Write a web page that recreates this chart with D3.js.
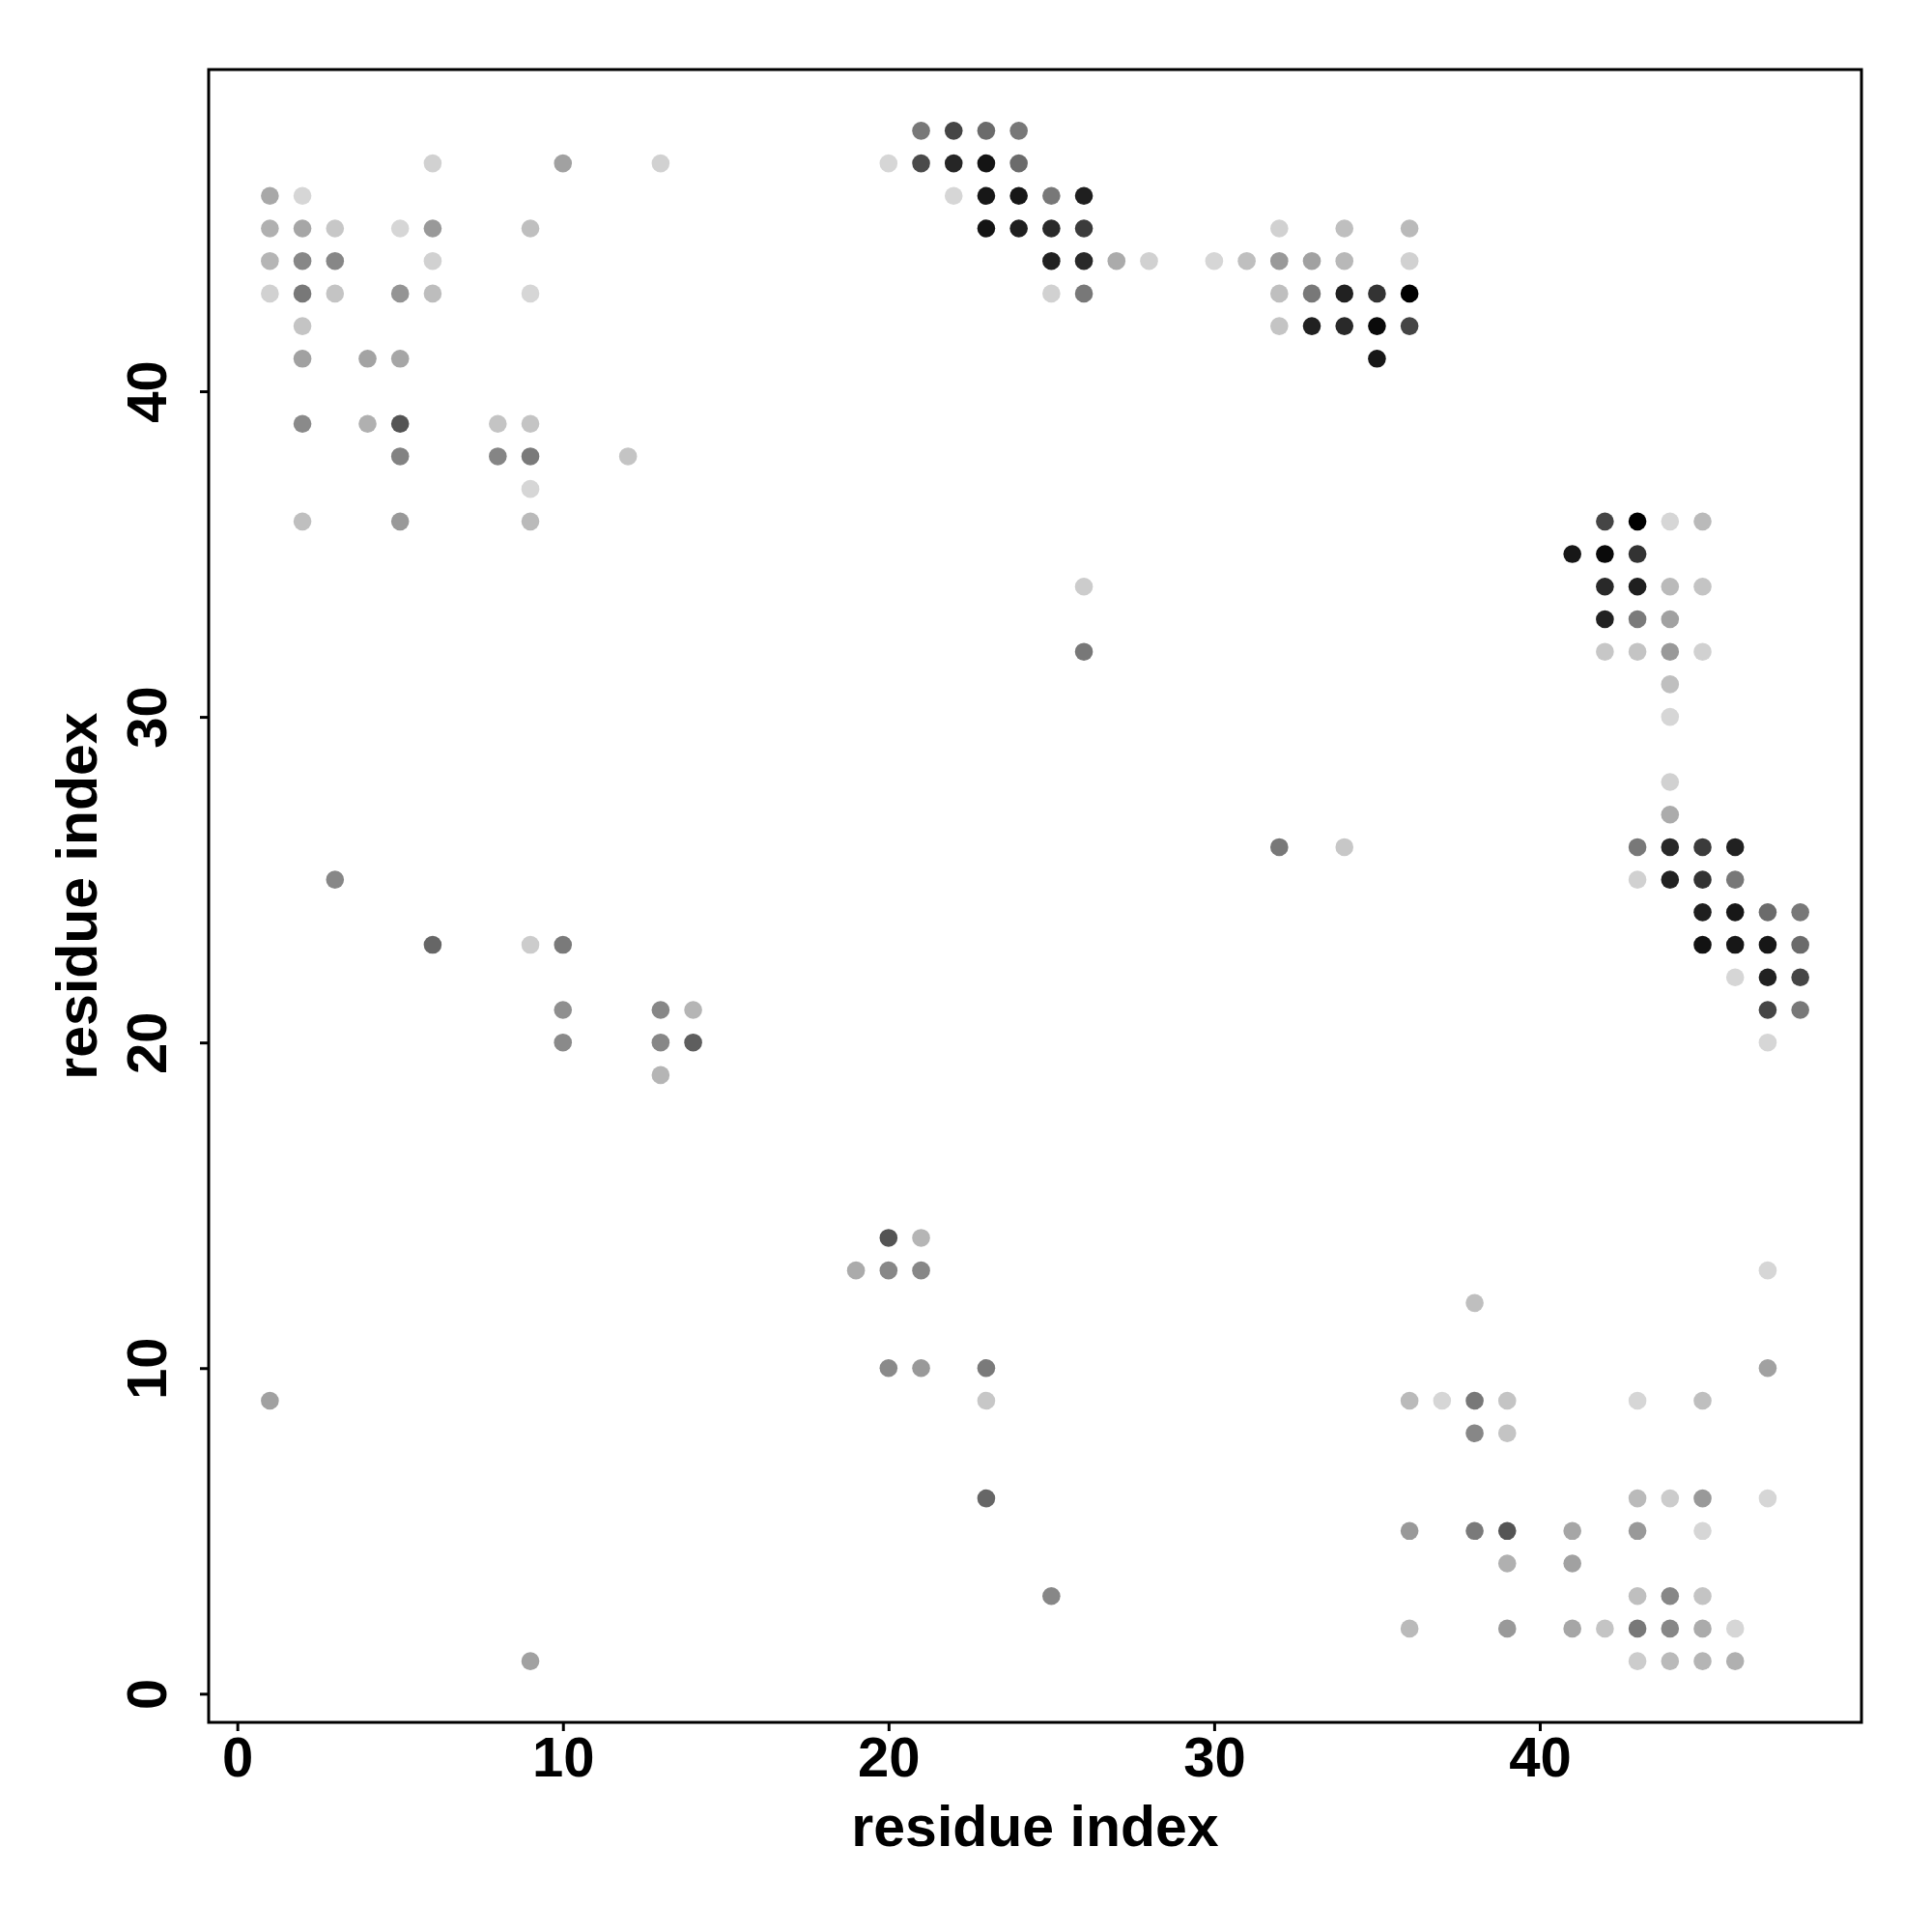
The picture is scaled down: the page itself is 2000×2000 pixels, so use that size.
<!DOCTYPE html>
<html>
<head>
<meta charset="utf-8">
<script src="https://cdn.jsdelivr.net/npm/d3@7"></script>
<style>
  html, body { margin: 0; padding: 0; background: #fff; }
  svg { display: block; }
  text { font-family: "Liberation Sans", Arial, Helvetica, sans-serif; font-weight: bold; }
</style>
</head>
<body>
<script>
// ---- data: contact map (residue i, residue j, contact strength 0..1) ----
const residueI = [
  21,22,23,24,
  6,10,13,20,21,22,23,24,
  1,2,22,23,24,25,26,
  1,2,3,5,6,9,23,24,25,26,32,34,36,
  1,2,3,6,25,26,27,28,30,31,32,33,34,36,
  1,2,3,5,6,9,25,26,32,33,34,35,36,
  2,32,33,34,35,36,
  2,4,5,35,
  2,4,5,8,9,
  5,8,9,12,
  9,
  2,5,9,42,43,44,45,
  41,42,43,
  26,42,43,44,45,
  42,43,44,
  26,42,43,44,45,
  44,
  44,
  44,
  44,
  32,34,43,44,45,46,
  3,43,44,45,46,
  45,46,47,48,
  6,9,10,45,46,47,48,
  46,47,48,
  10,13,14,47,48,
  10,13,14,47,
  13,
  20,21,
  19,20,21,47,
  38,
  20,21,23,47,
  1,23,36,37,38,39,43,45,
  38,39,
  23,43,44,45,47,
  36,38,39,41,43,45,
  39,41,
  25,43,44,45,
  36,39,41,42,43,44,45,46,
  9,43,44,45,46
];
const residueJ = [
  48,48,48,48,
  47,47,47,47,47,47,47,47,
  46,46,46,46,46,46,46,
  45,45,45,45,45,45,45,45,45,45,45,45,45,
  44,44,44,44,44,44,44,44,44,44,44,44,44,44,
  43,43,43,43,43,43,43,43,43,43,43,43,43,
  42,42,42,42,42,42,
  41,41,41,41,
  39,39,39,39,39,
  38,38,38,38,
  37,
  36,36,36,36,36,36,36,
  35,35,35,
  34,34,34,34,34,
  33,33,33,
  32,32,32,32,32,
  31,
  30,
  28,
  27,
  26,26,26,26,26,26,
  25,25,25,25,25,
  24,24,24,24,
  23,23,23,23,23,23,23,
  22,22,22,
  21,21,21,21,21,
  20,20,20,20,
  19,
  14,14,
  13,13,13,13,
  12,
  10,10,10,10,
  9,9,9,9,9,9,9,9,
  8,8,
  6,6,6,6,6,
  5,5,5,5,5,5,
  4,4,
  3,3,3,3,
  2,2,2,2,2,2,2,2,
  1,1,1,1,1
];
const contactScore = [
  .53,.73,.58,.53,
  .18,.37,.18,.16,.71,.85,.92,.58,
  .34,.16,.16,.91,.91,.53,.88,
  .31,.35,.22,.16,.40,.25,.92,.88,.84,.77,.18,.25,.27,
  .29,.47,.47,.18,.87,.84,.33,.18,.16,.25,.40,.37,.28,.18,
  .18,.53,.23,.42,.26,.16,.18,.53,.25,.53,.87,.80,1.0,
  .23,.23,.87,.84,.96,.73,
  .37,.36,.35,.91,
  .46,.31,.67,.23,.23,
  .49,.48,.52,.23,
  .16,
  .25,.40,.27,.73,1.0,.16,.27,
  .91,.96,.80,
  .20,.84,.88,.27,.23,
  .87,.52,.37,
  .53,.22,.23,.40,.18,
  .25,
  .16,
  .18,
  .33,
  .53,.22,.53,.84,.77,.87,
  .47,.18,.87,.80,.53,
  .88,.91,.58,.53,
  .60,.20,.52,.93,.91,.91,.58,
  .16,.87,.73,
  .44,.47,.29,.73,.53,
  .46,.47,.63,.16,
  .29,
  .67,.29,
  .33,.47,.47,.16,
  .25,
  .46,.40,.52,.37,
  .37,.22,.27,.16,.53,.23,.16,.25,
  .47,.23,
  .60,.27,.20,.40,.16,
  .40,.52,.67,.35,.40,.16,
  .31,.37,
  .47,.25,.47,.23,
  .27,.40,.35,.23,.53,.47,.33,.16,
  .37,.20,.27,.29,.31
];
const xTicks = [0, 10, 20, 30, 40];
const yTicks = [0, 10, 20, 30, 40];
const xLabel = "residue index";
const yLabel = "residue index";

// ---- layout ----
const W = 2000, H = 2000;
const mL = 216, mR = 1927, mT = 72, mB = 1783;

const svg = d3.select("body").append("svg").attr("width", W).attr("height", H);
svg.append("rect").attr("width", W).attr("height", H).attr("fill", "#fff");

// R-style 4% padding around data range [1, 48]
const lo = 1, hi = 48, pad = (hi - lo) * 0.04;
const x = d3.scaleLinear().domain([lo - pad, hi + pad]).range([mL, mR]);
const y = d3.scaleLinear().domain([lo - pad, hi + pad]).range([mB, mT]);
const gray = d3.scaleLinear().domain([0, 1]).range([255, 0]);

const n = Math.min(residueI.length, residueJ.length, contactScore.length);
const points = d3.range(n).map(k => ({ i: residueI[k], j: residueJ[k], s: contactScore[k] }));

svg.append("g").selectAll("circle").data(points).join("circle")
  .attr("cx", d => x(d.i))
  .attr("cy", d => y(d.j))
  .attr("r", 9.3)
  .attr("fill", d => { const g = Math.round(gray(d.s)); return d3.rgb(g, g, g); });

// box
svg.append("rect")
  .attr("x", mL).attr("y", mT)
  .attr("width", mR - mL).attr("height", mB - mT)
  .attr("fill", "none").attr("stroke", "#000").attr("stroke-width", 3);

// x axis
const xAxis = d3.axisBottom(x).tickValues(xTicks).tickSize(9).tickFormat(d3.format("d"));
const gx = svg.append("g").attr("transform", `translate(0,${mB})`).call(xAxis);
gx.select(".domain").remove();
gx.selectAll(".tick line").attr("stroke", "#000").attr("stroke-width", 3);
gx.selectAll(".tick text")
  .attr("fill", "#000").attr("font-size", 58)
  .attr("y", null).attr("dy", null)
  .attr("transform", "translate(0,56)")
  .style("font-family", '"Liberation Sans", Arial, sans-serif').style("font-weight", "bold");

// y axis
const yAxis = d3.axisLeft(y).tickValues(yTicks).tickSize(9).tickFormat(d3.format("d"));
const gy = svg.append("g").attr("transform", `translate(${mL},0)`).call(yAxis);
gy.select(".domain").remove();
gy.selectAll(".tick line").attr("stroke", "#000").attr("stroke-width", 3);
gy.selectAll(".tick text")
  .attr("fill", "#000").attr("font-size", 58)
  .attr("x", null).attr("dy", null)
  .attr("text-anchor", "middle")
  .attr("transform", `translate(${172 - mL},0) rotate(-90)`)
  .style("font-family", '"Liberation Sans", Arial, sans-serif').style("font-weight", "bold");

// axis titles
svg.append("text")
  .attr("x", (mL + mR) / 2).attr("y", 1911)
  .attr("text-anchor", "middle").attr("font-size", 59).attr("fill", "#000")
  .text(xLabel);
svg.append("text")
  .attr("transform", `translate(100,${(mT + mB) / 2}) rotate(-90)`)
  .attr("text-anchor", "middle").attr("font-size", 59).attr("fill", "#000")
  .text(yLabel);
</script>
</body>
</html>
